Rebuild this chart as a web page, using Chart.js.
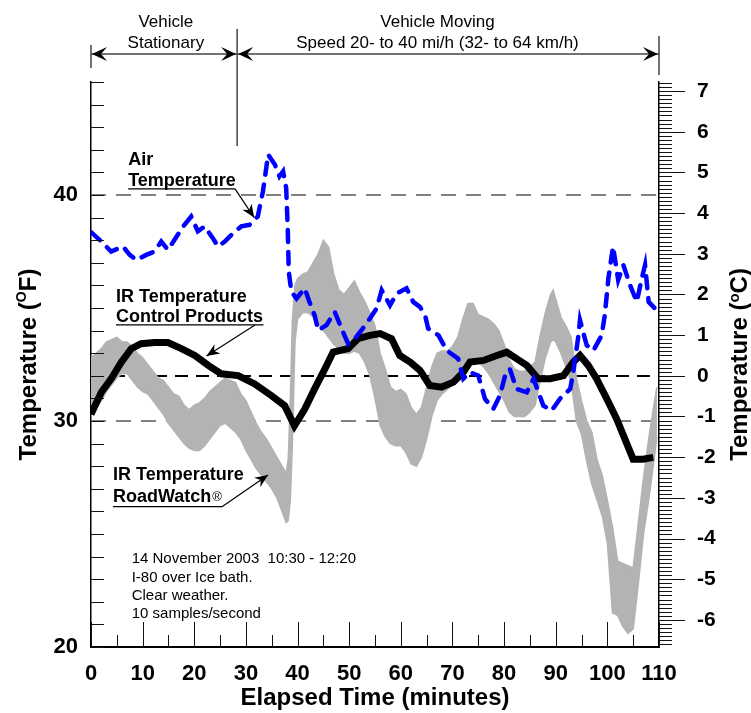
<!DOCTYPE html>
<html>
<head>
<meta charset="utf-8">
<script src="https://cdn.jsdelivr.net/npm/chart.js@4.4.0/dist/chart.umd.min.js"></script>
<style>
  html, body { margin: 0; padding: 0; background: #fff; }
</style>
</head>
<body>
<canvas id="chart" width="751" height="713"></canvas>
<script>
const FONT = "'Liberation Sans', Arial, Helvetica, sans-serif";

// Air temperature (deg F), blue dashed line
const airMinutes = [0, 2.0, 3.9, 6.2, 7.5, 8.8, 10.7, 12.3, 13.6, 14.9, 16.8, 18.1, 19.4, 20.7, 22.0, 23.6, 24.6, 25.9, 27.5, 29.1,
  30.7, 32.3, 33.3, 34.3, 35.6, 36.5, 37.2, 37.8, 38.1, 38.3, 38.8, 39.8, 41.4, 42.3, 43.3, 44.0, 45.6, 47.2, 48.8, 49.8,
  51.1, 53.6, 55.3, 56.3, 57.9, 59.2, 61.1, 62.4, 63.7, 64.7, 65.3, 67.3, 68.9, 71.1, 72.1, 73.4, 75.0, 76.3, 77.9, 79.2,
  80.2, 81.1, 82.4, 84.4, 85.7, 87.6, 89.2, 90.8, 92.8, 93.4, 94.4, 94.7, 96.0, 97.3, 98.9, 99.5, 100.2, 101.1, 102.1, 103.1,
  104.4, 105.7, 106.6, 107.3, 108.0, 109.2];
const airTemps = [38.36, 37.94, 37.5, 37.72, 37.35, 37.12, 37.35, 37.5, 37.94, 37.57, 38.24, 38.68, 39.05, 38.39, 38.61, 38.09, 37.72, 37.94, 38.31, 38.61,
  38.68, 39.05, 40.16, 41.79, 41.35, 40.83, 41.05, 40.31, 38.53, 36.61, 35.72, 35.42, 35.87, 35.27, 34.68, 34.01, 34.24, 34.83, 33.94, 33.42,
  33.64, 34.39, 34.98, 35.79, 35.12, 35.64, 35.87, 35.27, 35.05, 34.68, 34.09, 33.79, 33.12, 32.76, 31.87, 32.16, 32.01, 30.98, 30.53, 31.13,
  32.01, 32.31, 31.42, 31.27, 31.87, 30.68, 30.46, 30.98, 31.42, 32.16, 33.79, 34.46, 33.35, 33.12, 33.79, 34.68, 36.31, 37.72, 36.24, 36.9,
  36.01, 35.27, 36.24, 36.9, 35.27, 34.98];

// IR temperature, Control Products sensor (deg F), thick black line
const ctrlMinutes = [0, 2.0, 3.9, 5.9, 7.8, 9.7, 12.3, 14.9, 17.5, 20.1, 22.7, 25.2, 28.5, 31.7, 34.9, 37.5, 39.4, 41.4, 43.3, 45.3,
  46.9, 49.8, 51.7, 54.0, 56.0, 58.2, 59.8, 61.8, 63.7, 65.6, 67.9, 70.2, 72.1, 73.4, 76.0, 78.6, 80.5, 82.4, 84.4, 86.6,
  88.9, 91.5, 93.4, 94.7, 96.3, 97.9, 99.9, 101.8, 103.4, 105.0, 106.9, 108.9];
const ctrlTemps = [30.3, 31.27, 31.87, 32.61, 33.2, 33.42, 33.47, 33.47, 33.2, 32.9, 32.46, 32.09, 32.01, 31.64, 31.13, 30.68, 29.79, 30.53, 31.42, 32.31,
  33.05, 33.2, 33.64, 33.79, 33.87, 33.64, 32.9, 32.61, 32.24, 31.57, 31.5, 31.72, 32.16, 32.61, 32.68, 32.9, 33.05, 32.76, 32.46, 31.87,
  31.87, 32.01, 32.61, 32.9, 32.46, 31.87, 30.98, 30.09, 29.2, 28.31, 28.31, 28.39];

// IR temperature, RoadWatch sensor (deg F): noisy band, upper and lower edge
const rwMinutes = [0, 1, 2, 3, 4, 5, 6, 7, 8, 9, 10, 11, 12, 13, 14, 15, 16, 17, 18, 19,
  20, 21, 22, 23, 24, 25, 26, 27, 28, 29, 30, 31, 32, 33, 34, 35, 36, 37, 37.8, 38.2,
  38.6, 39.0, 39.5, 40, 41, 42, 43, 44, 45, 46, 47, 48, 49, 50, 51, 52, 53, 54, 55, 56,
  57, 58, 59, 60, 61, 62, 63, 64, 65, 66, 67, 68, 69, 70, 71, 72, 73, 74, 75, 76,
  77, 78, 79, 80, 81, 82, 83, 84, 85, 86, 87, 88, 89, 89.5, 90, 91, 92, 93, 94, 95,
  96, 97, 98, 99, 100, 101, 102, 103, 104, 105, 106, 107, 108, 109, 109.6];
const rwHigh = [32.8, 33.0, 33.2, 33.5, 33.6, 33.7, 33.5, 33.5, 33.3, 33.0, 32.8, 32.5, 32.2, 31.9, 31.8, 31.5, 31.2, 31.1, 30.7, 30.5,
  30.7, 30.8, 31.0, 31.3, 31.5, 31.7, 31.9, 31.8, 31.7, 31.2, 30.9, 30.4, 29.9, 29.5, 29.2, 28.8, 28.4, 28.0, 27.7, 28.3,
  31.0, 34.5, 36.0, 36.3, 36.5, 36.6, 37.0, 37.4, 38.0, 37.7, 36.5, 35.8, 35.6, 35.9, 36.2, 35.7, 35.3, 34.8, 34.2, 33.0,
  32.3, 31.5, 31.3, 31.4, 31.2, 30.6, 30.3, 30.6, 31.5, 32.4, 33.0, 33.1, 33.1, 33.3, 33.7, 34.5, 35.2, 35.2, 34.7, 34.6,
  34.5, 34.3, 34.0, 33.4, 32.7, 32.3, 32.2, 32.2, 32.4, 32.6, 33.8, 34.8, 35.6, 35.8, 35.4, 34.6, 34.2, 33.7, 31.9, 30.9,
  30.0, 29.5, 28.3, 27.6, 26.5, 25.3, 23.8, 23.7, 23.6, 23.5, 25.5, 27.5, 29.2, 30.7, 31.5];
const rwLow = [30.3, 30.6, 30.9, 31.3, 31.6, 31.9, 32.1, 32.1, 31.8, 31.5, 31.3, 31.2, 30.9, 30.6, 30.3, 29.9, 29.6, 29.3, 29.0, 28.8,
  28.7, 28.7, 28.9, 29.2, 29.5, 29.8, 29.9, 29.7, 29.5, 29.2, 28.7, 28.3, 27.9, 27.6, 27.3, 27.0, 26.6, 26.0, 25.5, 25.6,
  26.5, 29.0, 33.5, 34.5, 34.8, 34.8, 34.6, 34.3, 34.0, 33.7, 33.4, 33.2, 33.0, 33.0, 33.1, 33.0, 32.6, 32.0, 31.0, 29.8,
  29.3, 29.0, 28.9, 28.9, 28.6, 28.1, 28.0, 28.4, 29.2, 30.2, 30.9, 31.2, 31.4, 31.6, 31.9, 32.1, 32.4, 32.7, 32.6, 32.4,
  32.1, 31.7, 31.3, 30.9, 30.4, 30.2, 30.2, 30.2, 30.4, 30.7, 31.8, 32.8, 33.5, 33.6, 33.5, 33.0, 32.4, 31.7, 30.0, 29.4,
  28.2, 27.2, 26.5, 25.8, 24.6, 21.5, 21.4, 20.9, 20.6, 20.8, 22.8, 25.0, 26.5, 28.2, 29.3];

// axes and tick labels
const xTicks = [0, 10, 20, 30, 40, 50, 60, 70, 80, 90, 100, 110];
const fTicks = [20, 30, 40];
const cTicks = [-6, -5, -4, -3, -2, -1, 0, 1, 2, 3, 4, 5, 6, 7];
const fMin = 20, fMax = 45;
const toC = (f) => (f - 32) / 1.8;

const grayLines = [30, 40];   // dashed grey reference lines (deg F)
const freezeLine = 32;         // dashed black line at 0 deg C
const stopMinute = 28.3;       // vehicle starts moving

const pts = (xs, ys) => xs.map((m, i) => ({ x: m, y: ys[i] }));

function arrowHead(ctx, tx, ty, fx, fy, len, half, notch) {
  const a = Math.atan2(ty - fy, tx - fx);
  const c = Math.cos(a), s = Math.sin(a);
  ctx.beginPath();
  ctx.moveTo(tx, ty);
  ctx.lineTo(tx - len * c + half * s, ty - len * s - half * c);
  ctx.lineTo(tx - notch * c, ty - notch * s);
  ctx.lineTo(tx - len * c - half * s, ty - len * s + half * c);
  ctx.closePath();
  ctx.fill();
}

function verticalTitle(ctx, cx, cy, parts) {
  ctx.save();
  ctx.translate(cx, cy);
  ctx.rotate(-Math.PI / 2);
  let total = 0;
  parts.forEach(p => { ctx.font = p.font; p.w = ctx.measureText(p.text).width; total += p.w; });
  let px = -total / 2;
  ctx.textBaseline = "alphabetic";
  ctx.textAlign = "left";
  parts.forEach(p => { ctx.font = p.font; ctx.fillText(p.text, px, 8.5 + p.rise); px += p.w; });
  ctx.restore();
}

// dashed reference lines behind the data
const refLines = {
  id: "refLines",
  beforeDatasetsDraw(chart) {
    const { ctx, chartArea: a, scales: { y } } = chart;
    ctx.save();
    ctx.lineWidth = 2;
    ctx.strokeStyle = "#808080";
    ctx.setLineDash([15, 10]);
    grayLines.forEach(v => {
      const py = Math.round(y.getPixelForValue(v));
      ctx.beginPath(); ctx.moveTo(a.left, py); ctx.lineTo(a.right, py); ctx.stroke();
    });
    ctx.strokeStyle = "#000";
    ctx.setLineDash([13, 8]);
    const pz = Math.round(y.getPixelForValue(freezeLine));
    ctx.beginPath(); ctx.moveTo(a.left, pz); ctx.lineTo(a.right, pz); ctx.stroke();
    ctx.restore();
  }
};

// inside / outside tick marks of the three axes
const axisTicks = {
  id: "axisTicks",
  afterDraw(chart) {
    const { ctx, chartArea: a, scales: { x, y, yC } } = chart;
    ctx.save();
    ctx.strokeStyle = "#111";
    ctx.lineWidth = 1;
    ctx.beginPath();
    for (let v = fMin; v <= fMax; v++) {
      const py = Math.round(y.getPixelForValue(v)) + 0.5;
      ctx.moveTo(a.left, py); ctx.lineTo(a.left + 13, py);
    }
    for (let v = 0; v <= 110; v += 5) {
      const px = Math.round(x.getPixelForValue(v)) + 0.5;
      ctx.moveTo(px, a.bottom); ctx.lineTo(px, a.bottom - (v % 10 === 0 ? 25 : 12));
    }
    for (let k = Math.ceil(yC.min * 10); k <= Math.floor(yC.max * 10); k++) {
      const py = Math.round(yC.getPixelForValue(k / 10)) + 0.5;
      ctx.moveTo(a.right, py); ctx.lineTo(a.right + (k % 10 === 0 ? 26 : 13), py);
    }
    ctx.stroke();

    // axis titles with raised degree mark
    ctx.fillStyle = "#000";
    verticalTitle(ctx, 27, (a.top + a.bottom) / 2, [
      { text: "Temperature (", font: "bold 24px " + FONT, rise: 0 },
      { text: "O", font: "bold 14px " + FONT, rise: -10 },
      { text: "F)", font: "bold 24px " + FONT, rise: 0 }
    ]);
    verticalTitle(ctx, 738, (a.top + a.bottom) / 2, [
      { text: "Temperature (", font: "bold 24px " + FONT, rise: 0 },
      { text: "o", font: "bold 15px " + FONT, rise: -8 },
      { text: "C)", font: "bold 24px " + FONT, rise: 0 }
    ]);
    ctx.restore();
  }
};

// bracket on top and the callouts inside the plot
const notes = {
  id: "notes",
  afterDraw(chart) {
    const { ctx, scales: { x, y } } = chart;
    const P = (m, f) => [x.getPixelForValue(m), y.getPixelForValue(f)];
    const x0 = x.getPixelForValue(0), xs = x.getPixelForValue(stopMinute), x1 = x.getPixelForValue(110);
    ctx.save();

    // top bracket
    ctx.strokeStyle = "#444";
    ctx.lineWidth = 1.5;
    ctx.beginPath();
    ctx.moveTo(x0, 45); ctx.lineTo(x0, 68);
    ctx.moveTo(xs, 29); ctx.lineTo(xs, 146);
    ctx.moveTo(x1, 36); ctx.lineTo(x1, 75);
    ctx.moveTo(x0, 54); ctx.lineTo(x1, 54);
    ctx.stroke();
    ctx.fillStyle = "#000";
    arrowHead(ctx, x0 + 1, 54, x0 + 20, 54, 15, 7, 9);
    arrowHead(ctx, xs - 1, 54, xs - 20, 54, 15, 7, 9);
    arrowHead(ctx, xs + 1, 54, xs + 20, 54, 15, 7, 9);
    arrowHead(ctx, x1 - 1, 54, x1 - 20, 54, 15, 7, 9);

    ctx.font = "17px " + FONT;
    ctx.textAlign = "center";
    ctx.textBaseline = "alphabetic";
    const cStat = x.getPixelForValue(14.5), cMove = x.getPixelForValue(67.1);
    ctx.fillText("Vehicle", cStat, 27);
    ctx.fillText("Stationary", cStat, 48);
    ctx.fillText("Vehicle Moving", cMove, 27);
    ctx.fillText("Speed 20- to 40 mi/h (32- to 64 km/h)", cMove, 48);

    // callouts
    ctx.textAlign = "left";
    ctx.font = "bold 18px " + FONT;
    const text = (s, m, f) => { const p = P(m, f); ctx.fillText(s, p[0], p[1]); };
    const seg = (a, b) => { ctx.beginPath(); ctx.moveTo(a[0], a[1]); ctx.lineTo(b[0], b[1]); ctx.stroke(); };
    const lead = (a, b) => { seg(a, b); arrowHead(ctx, b[0], b[1], a[0], a[1], 13, 5.5, 9); };
    ctx.strokeStyle = "#000";
    ctx.lineWidth = 1.2;

    text("Air", 7.2, 41.33);
    text("Temperature", 7.2, 40.40);
    seg(P(7.2, 40.27), P(27.9, 40.27));
    lead(P(27.9, 40.27), P(31.6, 39.0));

    text("IR Temperature", 4.84, 35.28);
    text("Control Products", 4.84, 34.39);
    seg(P(4.84, 34.25), P(33.4, 34.25));
    lead(P(31.76, 34.25), P(22.37, 32.88));

    text("IR Temperature", 4.26, 27.39);
    text("RoadWatch", 4.26, 26.43);
    const rw = P(4.26, 26.43);
    const rwW = ctx.measureText("RoadWatch").width;
    ctx.font = "13px " + FONT;
    ctx.fillText("\u00AE", rw[0] + rwW + 1, rw[1] - 1);
    seg(P(4.26, 26.21), P(25.37, 26.21));
    lead(P(25.37, 26.21), P(34.28, 27.61));

    ctx.font = "15px " + FONT;
    text("14 November 2003  10:30 - 12:20", 7.88, 23.72);
    text("I-80 over Ice bath.", 7.88, 22.89);
    text("Clear weather.", 7.88, 22.08);
    text("10 samples/second", 7.88, 21.28);
    ctx.restore();
  }
};

const tickFont = { family: FONT, size: 22, weight: "bold" };

new Chart(document.getElementById("chart"), {
  type: "line",
  data: {
    datasets: [
      {
        label: "Air Temperature",
        data: pts(airMinutes, airTemps),
        borderColor: "#0000ff",
        borderWidth: 4.5,
        borderDash: [12, 10],
        borderCapStyle: "round",
        pointRadius: 0,
        fill: false
      },
      {
        label: "IR Temperature Control Products",
        data: pts(ctrlMinutes, ctrlTemps),
        borderColor: "#000",
        borderWidth: 7,
        pointRadius: 0,
        fill: false
      },
      {
        label: "RoadWatch upper",
        data: pts(rwMinutes, rwHigh),
        borderColor: "#b3b3b3",
        borderWidth: 1.5,
        pointRadius: 0,
        fill: false
      },
      {
        label: "RoadWatch lower",
        data: pts(rwMinutes, rwLow),
        borderColor: "#b3b3b3",
        backgroundColor: "#b3b3b3",
        borderWidth: 1.5,
        pointRadius: 0,
        fill: "-1"
      }
    ]
  },
  options: {
    responsive: false,
    animation: false,
    layout: { padding: { top: 82, left: 0, right: 0, bottom: 0 } },
    plugins: { legend: { display: false }, tooltip: { enabled: false } },
    scales: {
      x: {
        type: "linear",
        position: "bottom",
        min: 0,
        max: 110,
        afterBuildTicks: (s) => { s.ticks = xTicks.map(v => ({ value: v })); },
        afterFit: (s) => { s.height = 66; },
        grid: { display: false, drawTicks: false },
        border: { display: true, color: "#000", width: 2 },
        ticks: { font: tickFont, color: "#000", padding: 14, maxRotation: 0, autoSkip: false, callback: (v) => String(v) },
        title: { display: true, text: "Elapsed Time (minutes)", color: "#000", font: { family: FONT, size: 24, weight: "bold" }, padding: 0 }
      },
      y: {
        type: "linear",
        position: "left",
        min: fMin,
        max: fMax,
        afterBuildTicks: (s) => { s.ticks = fTicks.map(v => ({ value: v })); },
        afterFit: (s) => { s.width = 91; },
        grid: { display: false, drawTicks: false },
        border: { display: true, color: "#000", width: 1.5 },
        ticks: { font: tickFont, color: "#000", padding: 13, autoSkip: false, callback: (v) => String(v) }
      },
      yC: {
        type: "linear",
        position: "right",
        min: toC(fMin),
        max: toC(fMax),
        afterBuildTicks: (s) => { s.ticks = cTicks.map(v => ({ value: v })); },
        afterFit: (s) => { s.width = 92; },
        grid: { display: false, drawTicks: false },
        border: { display: true, color: "#000", width: 1.5 },
        ticks: { font: { family: FONT, size: 21, weight: "bold" }, color: "#000", padding: 38, autoSkip: false, callback: (v) => String(v) }
      }
    }
  },
  plugins: [refLines, axisTicks, notes]
});
</script>
</body>
</html>
